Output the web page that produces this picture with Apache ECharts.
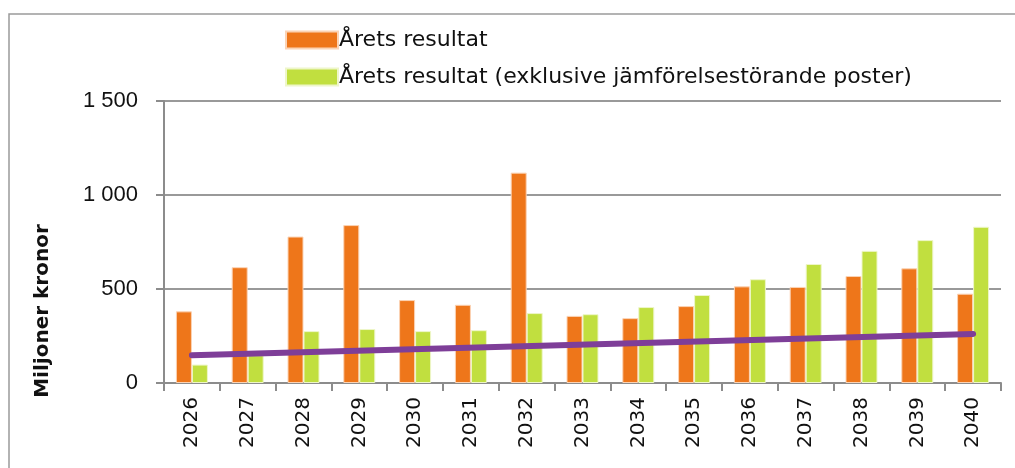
<!DOCTYPE html>
<html><head><meta charset="utf-8">
<script src="https://cdn.jsdelivr.net/npm/echarts@6/dist/echarts.min.js"></script>
<style>html,body{margin:0;padding:0;background:#fff}#c{width:1015px;height:468px}</style>
</head><body><div id="c"></div>
<script>
const years = ['2026','2027','2028','2029','2030','2031','2032','2033','2034','2035','2036','2037','2038','2039','2040'];
const resultat = [381, 616, 779, 840, 441, 416, 1119, 357, 345, 409, 514, 511, 569, 610, 475];
const resultatExkl = [98, 148, 276, 287, 276, 281, 372, 366, 404, 468, 552, 633, 703, 760, 831];
const trend = [148, null, null, null, null, null, null, null, null, null, null, null, null, null, 261];
const yTicks = {min: 0, max: 1500, interval: 500};
const names = ['Årets resultat', 'Årets resultat (exklusive jämförelsestörande poster)'];
const yTitle = 'Miljoner kronor';

const fmt = v => String(v).replace(/\B(?=(\d{3})+(?!\d))/g, ' ');
const chart = echarts.init(document.getElementById('c'), null, {renderer: 'canvas'});
chart.setOption({
  animation: false,
  backgroundColor: '#fff',
  graphic: [
    {type: 'rect', shape: {x: 9, y: 14, width: 1020, height: 470}, style: {fill: 'none', stroke: '#9a9a9a', lineWidth: 1.5}, silent: true},
    {type: 'text', x: 43, y: 311, rotation: Math.PI / 2, silent: true,
     style: {text: yTitle, fontFamily: 'DejaVu Sans', fontWeight: 'bold', fontSize: 20, fill: '#111', align: 'center', verticalAlign: 'middle'}}
  ],
  legend: {
    orient: 'vertical', left: 285, top: 29, padding: 0, itemWidth: 52, itemHeight: 17, itemGap: 15,
    data: names,
    textStyle: {fontFamily: 'DejaVu Sans', fontSize: 22, color: '#111', padding: [0,0,4,-4]},
    icon: 'rect'
  },
  grid: {left: 164, right: 14, top: 101, bottom: 85, containLabel: false},
  xAxis: {
    type: 'category', data: years,
    axisLine: {lineStyle: {color: '#8c8c8c', width: 2}},
    axisTick: {show: true, length: 8, lineStyle: {color: '#8c8c8c', width: 2}},
    axisLabel: {rotate: 90, fontFamily: 'DejaVu Sans', fontSize: 20, color: '#111', margin: 14}
  },
  yAxis: {
    type: 'value', min: yTicks.min, max: yTicks.max, interval: yTicks.interval,
    axisLine: {show: true, lineStyle: {color: '#8c8c8c', width: 2}},
    axisTick: {show: true, length: 8, lineStyle: {color: '#8c8c8c', width: 2}},
    splitLine: {lineStyle: {color: '#999', width: 2}},
    axisLabel: {formatter: fmt, fontFamily: 'Liberation Sans', fontSize: 22, color: '#111', margin: 26}
  },
  series: [
    {name: names[0], type: 'bar', data: resultat, barWidth: 16, barGap: '0%',
     itemStyle: {color: '#EE761A', borderColor: '#fbd3b5', borderWidth: 1}},
    {name: names[1], type: 'bar', data: resultatExkl, barWidth: 16,
     itemStyle: {color: '#C1DF3F', borderColor: '#eef6c9', borderWidth: 1}},
    {name: 'trend', type: 'line', data: trend, connectNulls: true, symbol: 'none',
     lineStyle: {color: '#7E3E98', width: 6, cap: 'round'}, z: 5}
  ]
});
</script></body></html>
